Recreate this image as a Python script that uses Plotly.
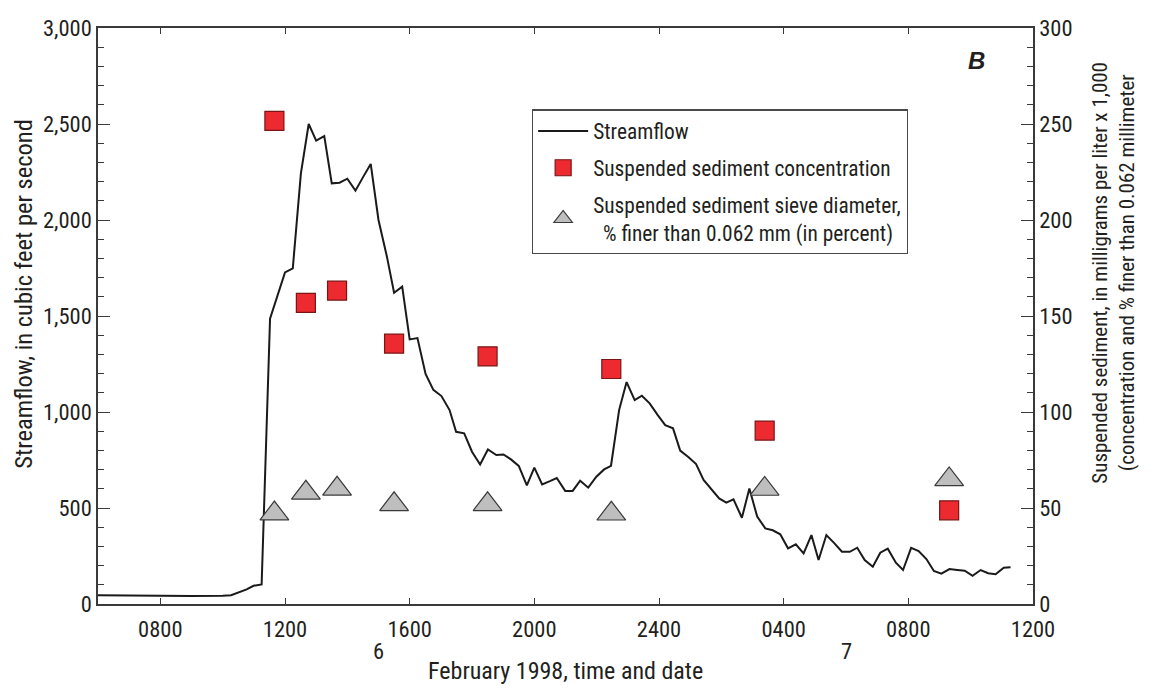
import plotly.graph_objects as go

# ---- data (hours since 0600, 6 Feb 1998) ----
flow_hours = [0, 1, 2, 3, 4, 4.27, 4.77, 4.99, 5.25, 5.52,
              6.00, 6.25, 6.51, 6.76, 7.00, 7.26, 7.50, 7.75, 8.00, 8.26,
              8.50, 8.75, 9.00, 9.27, 9.50, 9.76, 10.00, 10.25, 10.51, 10.76,
              11.02, 11.28, 11.49, 11.75, 12.00, 12.26, 12.51, 12.78, 13.01, 13.25,
              13.50, 13.76, 14.00, 14.25, 14.50, 14.72, 14.99, 15.23, 15.47, 15.73,
              15.99, 16.24, 16.46, 16.72, 16.96, 17.22, 17.45, 17.70, 17.96, 18.20,
              18.45, 18.68, 18.95, 19.19, 19.43, 19.67, 19.93, 20.16, 20.39, 20.66,
              20.90, 21.15, 21.41, 21.65, 21.89, 22.14, 22.39, 22.64, 22.89, 23.12,
              23.37, 23.63, 23.87, 24.12, 24.36, 24.60, 24.86, 25.10, 25.34, 25.60,
              25.83, 26.09, 26.33, 26.58, 26.82, 27.06, 27.32, 27.57, 27.81, 28.06,
              28.32, 28.56, 28.80, 29.06, 29.28]
streamflow = [45, 43, 42, 42, 43, 46, 76, 95, 102, 1486,
              1727, 1748, 2243, 2500, 2413, 2437, 2191, 2194, 2215, 2153,
              2222, 2292, 2000, 1809, 1621, 1653, 1378, 1385, 1198, 1115,
              1083, 1010, 897, 889, 793, 727, 805, 776, 779, 753,
              719, 618, 710, 623, 640, 656, 589, 589, 642, 606,
              663, 701, 720, 1010, 1156, 1062, 1085, 1045, 984, 932,
              915, 799, 764, 729, 646, 597, 550, 528, 545, 449,
              602, 455, 394, 384, 363, 290, 311, 264, 359, 229,
              359, 316, 272, 272, 293, 229, 194, 267, 288, 215,
              177, 292, 276, 234, 172, 158, 182, 177, 173, 147,
              177, 160, 155, 189, 191]

sample_hours = [5.66, 6.67, 7.67, 9.50, 12.50, 16.47, 21.39, 27.31]
concentration = [251.6, 156.8, 163.2, 135.6, 129.0, 122.4, 90.3, 48.8]
percent_finer = [47.1, 57.9, 60.0, 51.9, 51.9, 47.0, 59.9, 64.9]

x_tickvals = [2, 6, 10, 14, 18, 22, 26, 30]
x_ticktext = ['0800', '1200', '1600', '2000', '2400', '0400', '0800', '1200']
date_hours = [9, 24]
date_labels = ['6', '7']

FONT = "Liberation Sans Narrow, Arial Narrow, Roboto Condensed, Liberation Sans, sans-serif"
TXT = '#231f20'
AX = '#3a3a3a'

fig = go.Figure()
fig.add_trace(go.Scatter(
    x=flow_hours, y=streamflow, mode='lines', name='Streamflow',
    line=dict(color='#1a1a1a', width=2), legendgroup='a'))
fig.add_trace(go.Scatter(
    x=sample_hours, y=concentration, mode='markers', yaxis='y2',
    name='Suspended sediment concentration', legendgroup='b',
    marker=dict(symbol='square', size=19, color='#ec2a30',
                line=dict(color='#7a1515', width=1.2))))
fig.add_trace(go.Scatter(
    x=sample_hours, y=percent_finer, mode='markers', yaxis='y2',
    name='Suspended sediment sieve diameter,<br>\u00a0\u00a0% finer than 0.062 mm (in percent)',
    legendgroup='c',
    marker=dict(symbol='triangle-up', size=25, color='#bebebe',
                line=dict(color='#3a3a3a', width=1.2))))

tickfont = dict(family=FONT, size=22.5, color=TXT)
fig.update_layout(
    width=1167, height=698,
    margin=dict(l=98, r=134, t=28, b=94),
    paper_bgcolor='white', plot_bgcolor='white',
    font=dict(family=FONT, size=21, color=TXT),
    xaxis=dict(range=[0, 30], tickvals=x_tickvals, ticktext=x_ticktext,
               ticks='inside', ticklen=6, tickwidth=1.3, tickcolor=AX,
               showline=True, linecolor=AX, linewidth=1.5, mirror='ticks',
               showgrid=False, zeroline=False, tickfont=tickfont,
               ticklabelstandoff=4),
    yaxis=dict(range=[0, 3000], tickvals=[0, 500, 1000, 1500, 2000, 2500, 3000],
               tickformat=',d', ticks='inside', ticklen=12, tickwidth=1.3,
               tickcolor=AX, showline=True, linecolor=AX, linewidth=1.5,
               showgrid=False, zeroline=False, tickfont=tickfont,
               minor=dict(dtick=100, ticks='inside', ticklen=6, tickwidth=1.2,
                          tickcolor=AX, showgrid=False)),
    yaxis2=dict(range=[0, 300], tickvals=[0, 50, 100, 150, 200, 250, 300],
                overlaying='y', side='right', ticks='inside', ticklen=12,
                tickwidth=1.3, tickcolor=AX, showline=True, linecolor=AX,
                linewidth=1.5, showgrid=False, zeroline=False, tickfont=tickfont,
                minor=dict(dtick=10, ticks='inside', ticklen=6, tickwidth=1.2,
                           tickcolor=AX, showgrid=False)),
    legend=dict(x=0.464, y=0.859, xanchor='left', yanchor='top',
                bordercolor='#4a4a4a', borderwidth=1.3, bgcolor='white',
                font=dict(family=FONT, size=21.4, color=TXT),
                itemwidth=50,
                traceorder='grouped', tracegroupgap=6),
    showlegend=True,
)

annotations = []
for h, lab in zip(date_hours, date_labels):
    annotations.append(dict(x=h, y=-0.0816, xref='x', yref='paper', text=lab,
                            showarrow=False, xanchor='center', yanchor='middle',
                            font=dict(family=FONT, size=22.5, color=TXT)))
annotations.append(dict(x=0.5, y=-0.116, xref='paper', yref='paper',
                        text='February 1998, time and date', showarrow=False,
                        xanchor='center', yanchor='middle',
                        font=dict(family=FONT, size=24, color=TXT)))
annotations.append(dict(x=-0.080, y=0.539, xref='paper', yref='paper',
                        text='Streamflow, in cubic feet per second', textangle=-90,
                        showarrow=False, xanchor='center', yanchor='middle',
                        font=dict(family=FONT, size=24.5, color=TXT)))
annotations.append(dict(x=1.086, y=0.576, xref='paper', yref='paper',
                        text='Suspended sediment, in milligrams per liter x 1,000<br>(concentration and % finer than 0.062 millimeter',
                        textangle=-90, showarrow=False, xanchor='center', yanchor='middle',
                        font=dict(family=FONT, size=21, color=TXT)))
annotations.append(dict(x=0.940, y=0.944, xref='paper', yref='paper',
                        text='<b><i>B</i></b>', showarrow=False,
                        xanchor='center', yanchor='middle',
                        font=dict(family='Liberation Sans, Arial, sans-serif', size=24, color=TXT)))
fig.update_layout(annotations=annotations)

fig.write_html("out.html")
